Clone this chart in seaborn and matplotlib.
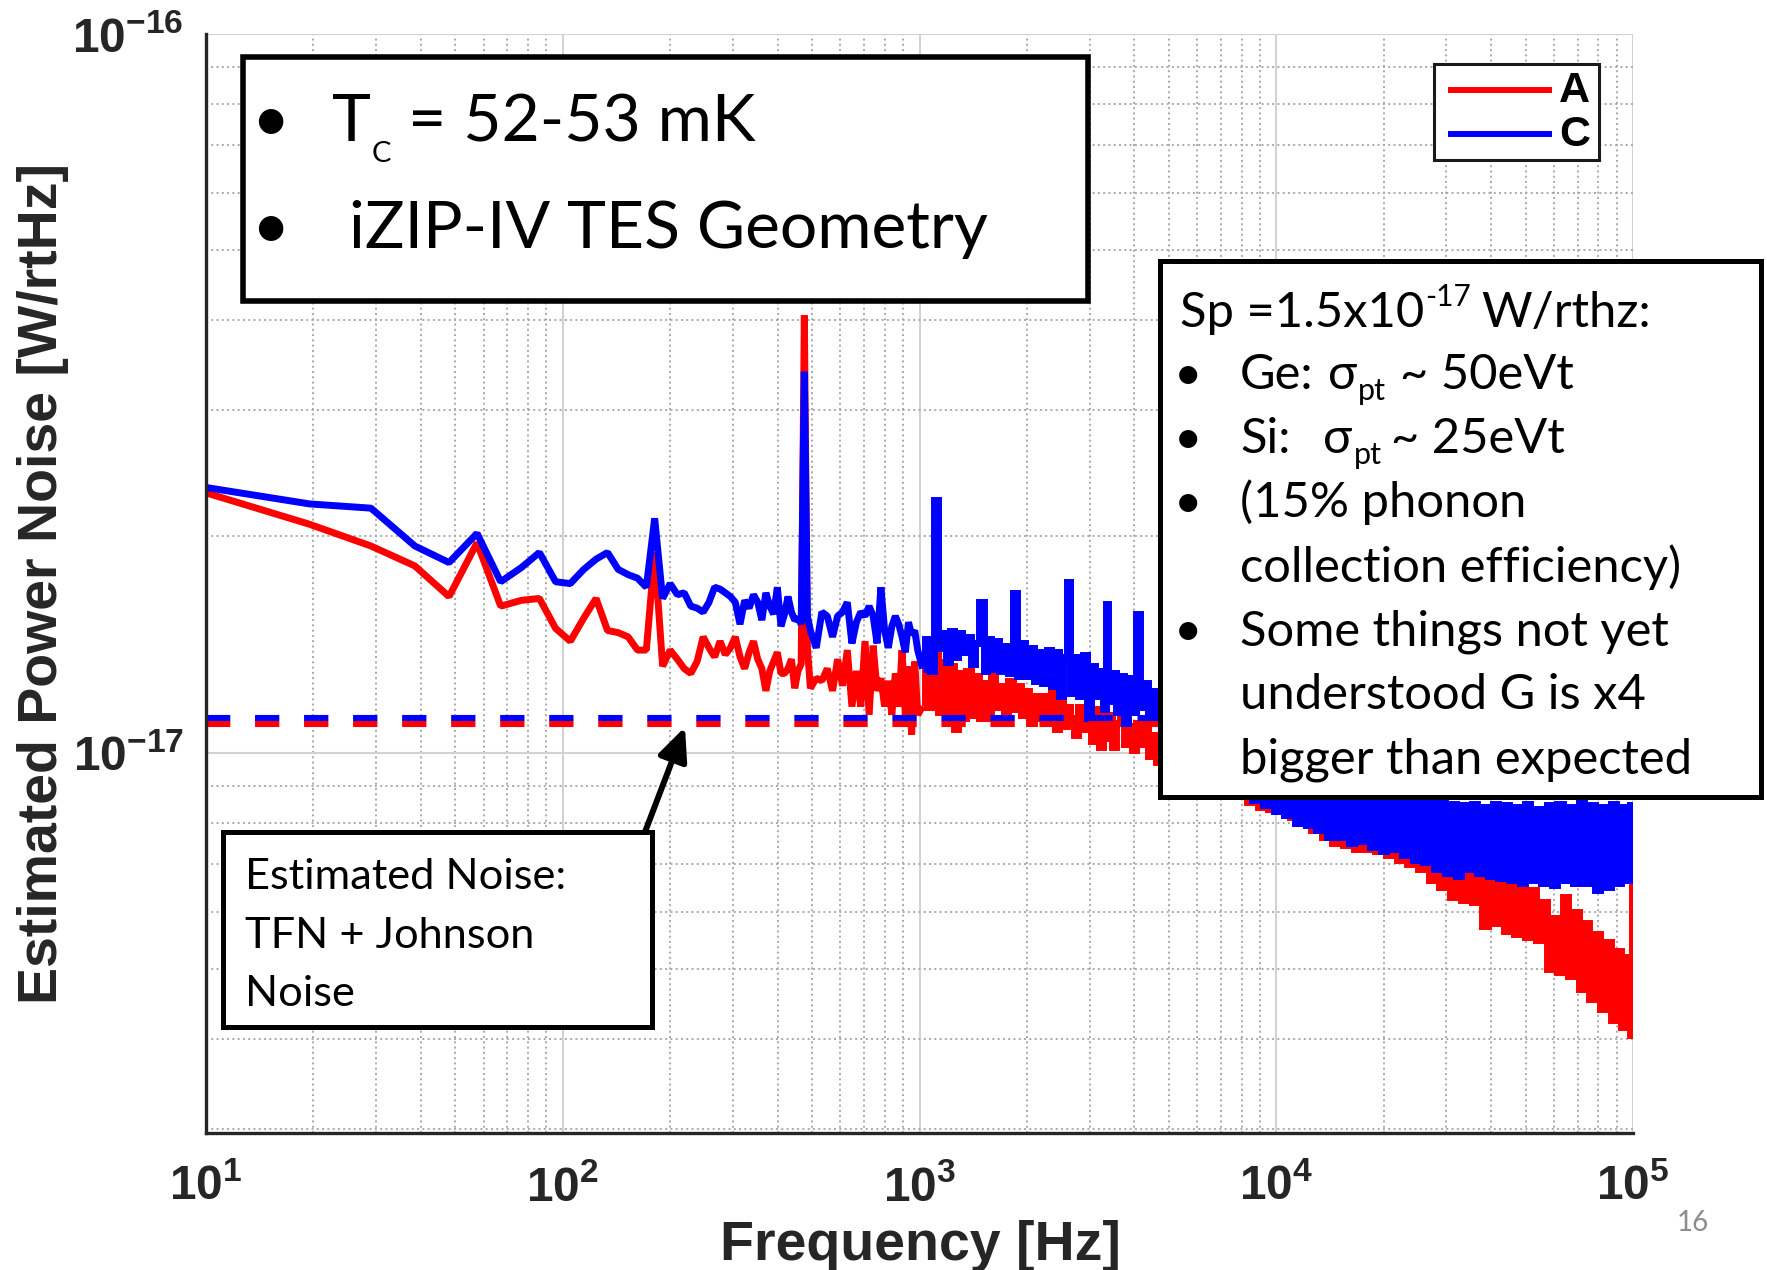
import numpy as np
import pandas as pd
import matplotlib
matplotlib.use("Agg")
import matplotlib.pyplot as plt
import seaborn as sns
from matplotlib.patches import Rectangle
from matplotlib.lines import Line2D
from matplotlib.ticker import FixedLocator, FixedFormatter, LogLocator, NullFormatter

# ---------------- data (PSD values in units of 1e-17 W/rtHz) ----------------
UNIT = 1e-17

FREQ_LOW = [10, 19.5, 29, 38.5, 48, 57.5, 67, 76.5, 86, 95.5, 105, 114.5, 124, 133.5,
            143, 152.5, 162, 171.5, 181, 190.5, 200, 209.5, 219, 228.5, 238, 247.5,
            257, 266.5, 276, 285.5, 295, 304.5, 314, 323.5, 333, 342.5, 352, 361.5,
            371, 380.5, 390, 399.5, 409, 418.5, 428, 437.5, 447, 456.5, 466, 475.5,
            485, 494.5, 513.5, 532.5, 551.5, 570.5, 589.5, 608.5, 627.5, 646.5, 665.5,
            684.5, 703.5, 722.5, 741.5, 760.5, 779.5, 798.5, 817.5, 836.5, 855.5,
            874.5, 893.5, 912.5, 931.5, 950.5, 969.5, 988.5]
PSD_C_LOW = [2.34, 2.22, 2.19, 1.94, 1.84, 2.02, 1.73, 1.81, 1.90, 1.73,
             1.72, 1.80, 1.86, 1.90, 1.80, 1.77, 1.75, 1.70, 2.12, 1.64,
             1.72, 1.66, 1.67, 1.60, 1.59, 1.57, 1.62, 1.70, 1.69, 1.67,
             1.65, 1.62, 1.51, 1.63, 1.59, 1.66, 1.62, 1.53, 1.67, 1.60,
             1.56, 1.70, 1.50, 1.56, 1.65, 1.57, 1.53, 1.54, 1.51, 3.39,
             1.55, 1.48, 1.40, 1.57, 1.55, 1.45, 1.55, 1.57, 1.62, 1.42,
             1.52, 1.57, 1.55, 1.60, 1.55, 1.42, 1.70, 1.48, 1.40, 1.50,
             1.55, 1.51, 1.45, 1.38, 1.52, 1.46, 1.48, 1.39]
PSD_A_LOW = [2.30, 2.08, 1.94, 1.82, 1.65, 1.96, 1.60, 1.63, 1.64, 1.49,
             1.43, 1.54, 1.64, 1.48, 1.47, 1.45, 1.39, 1.39, 1.90, 1.32,
             1.39, 1.35, 1.31, 1.29, 1.34, 1.45, 1.40, 1.36, 1.43, 1.37,
             1.40, 1.45, 1.36, 1.31, 1.38, 1.43, 1.35, 1.31, 1.22, 1.30,
             1.34, 1.38, 1.29, 1.29, 1.31, 1.35, 1.23, 1.30, 1.33, 4.06,
             1.40, 1.23, 1.27, 1.26, 1.31, 1.22, 1.35, 1.24, 1.39, 1.16,
             1.30, 1.16, 1.43, 1.13, 1.41, 1.22, 1.27, 1.16, 1.26, 1.13,
             1.29, 1.16, 1.39, 1.13, 1.32, 1.06, 1.34, 1.13]

FREQ_MID = [1020, 1050, 1085, 1117, 1140, 1170, 1200, 1235, 1270, 1300,
            1335, 1370, 1410, 1450, 1494, 1530, 1570, 1610, 1650, 1700,
            1750, 1800, 1854, 1900, 1950, 2000, 2060, 2120, 2180, 2240,
            2300, 2370, 2430, 2500, 2560, 2614, 2680, 2750, 2830, 2900,
            2980, 3060, 3140, 3230, 3300, 3350, 3420, 3510, 3600, 3700,
            3800, 3900, 4000, 4110, 4200, 4320, 4430, 4550, 4680]
PSD_C_MID = [1.31, 1.44, 1.30, 2.25, 1.40, 1.47, 1.34, 1.48, 1.36, 1.47,
             1.38, 1.45, 1.33, 1.42, 1.62, 1.30, 1.44, 1.31, 1.43, 1.30,
             1.41, 1.29, 1.67, 1.28, 1.42, 1.28, 1.40, 1.26, 1.38, 1.25,
             1.39, 1.24, 1.38, 1.20, 1.36, 1.73, 1.21, 1.36, 1.20, 1.37,
             1.12, 1.32, 1.20, 1.30, 1.15, 1.61, 1.18, 1.29, 1.14, 1.28,
             1.10, 1.27, 1.14, 1.56, 1.16, 1.25, 1.12, 1.22, 1.10]
PSD_A_MID = [1.16, 1.30, 1.16, 1.39, 1.14, 1.34, 1.10, 1.32, 1.08, 1.29,
             1.12, 1.30, 1.13, 1.28, 1.12, 1.25, 1.12, 1.28, 1.16, 1.24,
             1.14, 1.26, 1.15, 1.24, 1.13, 1.22, 1.10, 1.20, 1.12, 1.20,
             1.10, 1.22, 1.08, 1.18, 1.09, 1.16, 1.12, 1.06, 1.16, 1.08,
             1.16, 1.04, 1.15, 1.02, 1.13, 1.05, 1.13, 1.02, 1.10, 1.21,
             1.03, 1.09, 1.01, 1.10, 1.03, 1.09, 0.99, 1.06, 0.97]

FREQ_HIGH = [4840, 5010, 5190, 5370, 5560, 5750, 5960, 6170, 6380, 6610,
             6840, 7080, 7330, 7590, 7850, 8130, 8410, 8710, 9020, 9330,
             9660, 10000, 10350, 10720, 11090, 11480, 11890, 12300, 12740, 13180,
             13650, 14130, 14620, 15140, 15670, 16220, 16790, 17380, 17990, 18620,
             19280, 19950, 20650, 21380, 22130, 22910, 23710, 24550, 25410, 26300,
             27230, 28180, 29170, 30200, 31260, 32360, 33500, 34670, 35890, 37150,
             38460, 39810, 41210, 42660, 44160, 45710, 47320, 48980, 50700, 52480,
             54330, 56230, 58210, 60260, 62370, 64570, 66830, 69180, 71610, 74130,
             76740, 79430, 82220, 85110, 88100, 91200, 94410, 97720, 99000, 100000]
PSD_C_HIGH = [1.15, 1.01, 1.14, 0.99, 1.12, 0.97, 1.13, 0.96, 1.10, 0.94,
              1.09, 0.92, 1.08, 0.90, 1.06, 0.885, 1.05, 0.86, 1.04, 0.845,
              1.03, 0.83, 1.02, 0.82, 1.01, 0.80, 1.00, 0.795, 0.99, 0.78,
              0.98, 0.765, 0.97, 0.765, 0.96, 0.75, 0.95, 0.755, 0.94, 0.74,
              0.93, 0.73, 0.92, 0.735, 0.91, 0.72, 0.90, 0.71, 0.89, 0.705,
              0.88, 0.69, 0.86, 0.68, 0.85, 0.675, 0.845, 0.69, 0.85, 0.68,
              0.84, 0.675, 0.85, 0.67, 0.845, 0.665, 0.84, 0.66, 0.85, 0.665,
              0.835, 0.66, 0.845, 0.655, 0.85, 0.665, 0.84, 0.66, 0.95, 0.66,
              0.845, 0.645, 0.84, 0.65, 0.85, 0.66, 0.84, 0.665, 0.845, 0.70]
PSD_A_HIGH = [0.95, 1.05, 0.94, 1.04, 0.93, 1.02, 0.92, 1.01, 0.91, 1.00,
              0.90, 0.98, 0.885, 0.96, 0.87, 0.94, 0.855, 0.925, 0.84, 0.91,
              0.835, 0.89, 0.83, 0.87, 0.815, 0.86, 0.80, 0.845, 0.78, 0.83,
              0.765, 0.82, 0.75, 0.805, 0.745, 0.795, 0.735, 0.79, 0.735, 0.78,
              0.73, 0.77, 0.72, 0.76, 0.71, 0.75, 0.70, 0.74, 0.69, 0.73,
              0.665, 0.72, 0.65, 0.71, 0.63, 0.70, 0.625, 0.69, 0.62, 0.68,
              0.575, 0.67, 0.58, 0.665, 0.565, 0.66, 0.56, 0.655, 0.555, 0.645,
              0.55, 0.62, 0.50, 0.59, 0.495, 0.63, 0.49, 0.60, 0.47, 0.58,
              0.455, 0.56, 0.44, 0.545, 0.425, 0.53, 0.415, 0.52, 0.405, 0.66]

NOISE_FREQ = [10, 100000]
NOISE_A = [1.097, 1.097]
NOISE_C = [1.117, 1.117]

CHANNELS = ["A", "C"]
COLORS = {"A": "#ff0000", "C": "#0000ff"}
X_TICKS = [1e1, 1e2, 1e3, 1e4, 1e5]
X_TICK_LABELS = [r"$\mathbf{10^{1}}$", r"$\mathbf{10^{2}}$", r"$\mathbf{10^{3}}$",
                 r"$\mathbf{10^{4}}$", r"$\mathbf{10^{5}}$"]
Y_TICKS = [1e-17, 1e-16]
Y_TICK_LABELS = [r"$\mathbf{10^{-17}}$", r"$\mathbf{10^{-16}}$"]

# ---------------- style ----------------
sns.set_style("white")
plt.rcParams["font.family"] = ["Liberation Sans", "DejaVu Sans"]
plt.rcParams["lines.scale_dashes"] = False
plt.rcParams["mathtext.fontset"] = "custom"
plt.rcParams["mathtext.bf"] = "Liberation Sans:bold"
plt.rcParams["mathtext.rm"] = "Liberation Sans"
plt.rcParams["mathtext.it"] = "Liberation Sans:italic"

TEXT_FONT = ["Lato", "Open Sans", "DejaVu Sans"]
AXC = "#262626"

W, H = 1767, 1270
def fx(x):
    return x / W
def fy(y):
    return 1 - y / H

fig = plt.figure(figsize=(W / 100, H / 100), dpi=100)
fig.patch.set_facecolor("white")
ax = fig.add_axes([fx(206), fy(1133), (1633 - 206) / W, (1133 - 34) / H])
ax.set_xscale("log")
ax.set_yscale("log")

freq = FREQ_LOW + FREQ_MID + FREQ_HIGH
series = {"A": PSD_A_LOW + PSD_A_MID + PSD_A_HIGH,
          "C": PSD_C_LOW + PSD_C_MID + PSD_C_HIGH}
split = len(FREQ_LOW)

# sparse low-frequency part drawn as a line, dense part (many bins per pixel)
# drawn as steps so that it renders as a filled noise band like the original
for ch in CHANNELS:
    vals = [v * UNIT for v in series[ch]]
    d_line = pd.DataFrame({"freq": freq[:split + 1], "psd": vals[:split + 1]})
    d_dense = pd.DataFrame({"freq": freq[split:], "psd": vals[split:]})
    sns.lineplot(data=d_line, x="freq", y="psd", color=COLORS[ch], sort=False,
                 estimator=None, linewidth=5.0, ax=ax,
                 solid_joinstyle="bevel", solid_capstyle="butt")
    sns.lineplot(data=d_dense, x="freq", y="psd", color=COLORS[ch], sort=False,
                 estimator=None, linewidth=5.0, ax=ax, drawstyle="steps-mid",
                 solid_joinstyle="miter", solid_capstyle="butt")

noise = pd.DataFrame({
    "freq": NOISE_FREQ + NOISE_FREQ,
    "psd": [v * UNIT for v in NOISE_A] + [v * UNIT for v in NOISE_C],
    "channel": ["A", "A", "C", "C"],
})
n_before = len(ax.lines)
sns.lineplot(data=noise, x="freq", y="psd", hue="channel", hue_order=CHANNELS,
             palette=COLORS, sort=False, estimator=None, linewidth=4.4,
             legend=False, ax=ax)
for ln in ax.lines[n_before:]:
    ln.set_dashes((17.5, 17.8))
    ln.set_dash_capstyle("butt")

ax.set_xlim(10, 1e5)
ax.set_ylim(2.96e-18, 1e-16)

ax.xaxis.set_major_locator(FixedLocator(X_TICKS))
ax.xaxis.set_major_formatter(FixedFormatter(X_TICK_LABELS))
ax.yaxis.set_major_locator(FixedLocator(Y_TICKS))
ax.yaxis.set_major_formatter(FixedFormatter(Y_TICK_LABELS))
ax.xaxis.set_minor_locator(LogLocator(base=10, subs=np.arange(2, 10), numticks=20))
ax.yaxis.set_minor_locator(LogLocator(base=10, subs=np.arange(2, 10), numticks=20))
ax.xaxis.set_minor_formatter(NullFormatter())
ax.yaxis.set_minor_formatter(NullFormatter())

ax.set_axisbelow(True)
ax.grid(True, which="major", color="#d2d2d2", linewidth=1.5, linestyle="-")
ax.grid(True, which="minor", color="#a9a9a9", linewidth=1.4, linestyle=(0, (1.4, 2.4)))

for s in ["top", "right"]:
    ax.spines[s].set_visible(False)
for s in ["left", "bottom"]:
    ax.spines[s].set_linewidth(2.4)
    ax.spines[s].set_color(AXC)

ax.tick_params(axis="both", which="both", direction="in", color=AXC, width=2.0,
               top=False, right=False, labelcolor=AXC)
ax.tick_params(which="major", length=11)
ax.tick_params(which="minor", length=6)
ax.tick_params(axis="x", which="major", labelsize=34.5, pad=23)
ax.tick_params(axis="y", which="major", labelsize=34.5, pad=16)
ax.set_xlabel("")
ax.set_ylabel("")

fig.text(fx(920), fy(1260), "Frequency [Hz]", ha="center", va="baseline",
         fontsize=40, weight="bold", color=AXC)
fig.text(fx(57), fy(583.5), "Estimated Power Noise [W/rtHz]", ha="center",
         va="baseline", rotation=90, rotation_mode="anchor",
         fontsize=40, weight="bold", color=AXC)

# ---------------- legend (drawn as a framed key) ----------------
fig.add_artist(Rectangle((fx(1434), fy(160)), 165 / W, 96 / H, transform=fig.transFigure,
                         facecolor="white", edgecolor="#1a1a1a", linewidth=2.2, zorder=5))
for ch, yy in zip(CHANNELS, [90, 134]):
    fig.add_artist(Line2D([fx(1448), fx(1552)], [fy(yy), fy(yy)], color=COLORS[ch],
                          linewidth=4.3, solid_capstyle="butt",
                          transform=fig.transFigure, zorder=6))
    fig.text(fx(1559), fy(yy + 12), ch, ha="left", va="baseline", fontsize=31,
             weight="bold", color="black", zorder=7)

# ---------------- text boxes ----------------
def box(x0, y0, x1, y1, lw):
    fig.add_artist(Rectangle((fx(x0), fy(y1)), (x1 - x0) / W, (y1 - y0) / H,
                             transform=fig.transFigure, facecolor="white",
                             edgecolor="black", linewidth=lw, joinstyle="miter",
                             zorder=5))

def txt(x, y, s, size, **kw):
    return fig.text(fx(x), fy(y), s, ha="left", va="baseline", fontsize=size,
                    family=TEXT_FONT, color="black", zorder=7, **kw)

renderer = fig.canvas.get_renderer()

def run(x, y, parts):
    """Place text runs one after another; parts = (text, size, dy, gap_px)."""
    for s, size, dy, gap in parts:
        t = txt(x, y + dy, s, size)
        bb = t.get_window_extent(renderer=renderer)
        x = bb.x1 + gap

# box 1
box(243, 57, 1088, 301, 4.0)
S1 = 47.5
txt(251, 141, "\u2022", S1)
run(332, 141, [("T", S1, 0, 1), ("C", 21, 21, 0)])
txt(408, 141, "= 52-53 mK", S1)
txt(251, 248, "\u2022", S1)
txt(349, 248, "iZIP-IV TES Geometry", S1)

# box 2
box(1160, 261, 1761, 797, 3.6)
S2 = 35.2
run(1180, 327, [("Sp =1.5x10", S2, 0, 1), ("-17", 21.5, -21, 10), ("W/rthz:", S2, 0, 0)])
for yb in [389, 453, 517, 645]:
    txt(1174, yb, "\u2022", S2)
run(1240, 389, [("Ge:", S2, 0, 14), ("\u03c3", S2, 0, 1), ("pt", 22, 11, 0)])
txt(1400, 389, "~ 50eVt", S2)
run(1240, 453, [("Si:", S2, 0, 33), ("\u03c3", S2, 0, 1), ("pt", 22, 11, 0)])
txt(1391, 453, "~ 25eVt", S2)
txt(1240, 517, "(15% phonon", S2)
txt(1240, 582, "collection efficiency)", S2)
txt(1240, 645, "Some things not yet", S2)
txt(1240, 709, "understood G is x4", S2)
txt(1240, 773, "bigger than expected", S2)

# box 3 with arrow
ax.annotate("", xy=(685, H - 727), xycoords="figure pixels",
            xytext=(645, H - 832), textcoords="figure pixels",
            arrowprops=dict(arrowstyle="-|>,head_length=2.0,head_width=0.9",
                            color="black", lw=4.3, shrinkA=0, shrinkB=0),
            zorder=4)
box(223, 832, 652, 1027, 3.6)
S3 = 31.2
txt(245, 889, "Estimated Noise:", S3)
txt(245, 948, "TFN + Johnson", S3)
txt(245, 1006, "Noise", S3)

# page number
fig.text(fx(1677), fy(1231), "16", ha="left", va="baseline", fontsize=20,
         family=TEXT_FONT, color="#8c8c8c")

fig.savefig("out.png", dpi=100)
